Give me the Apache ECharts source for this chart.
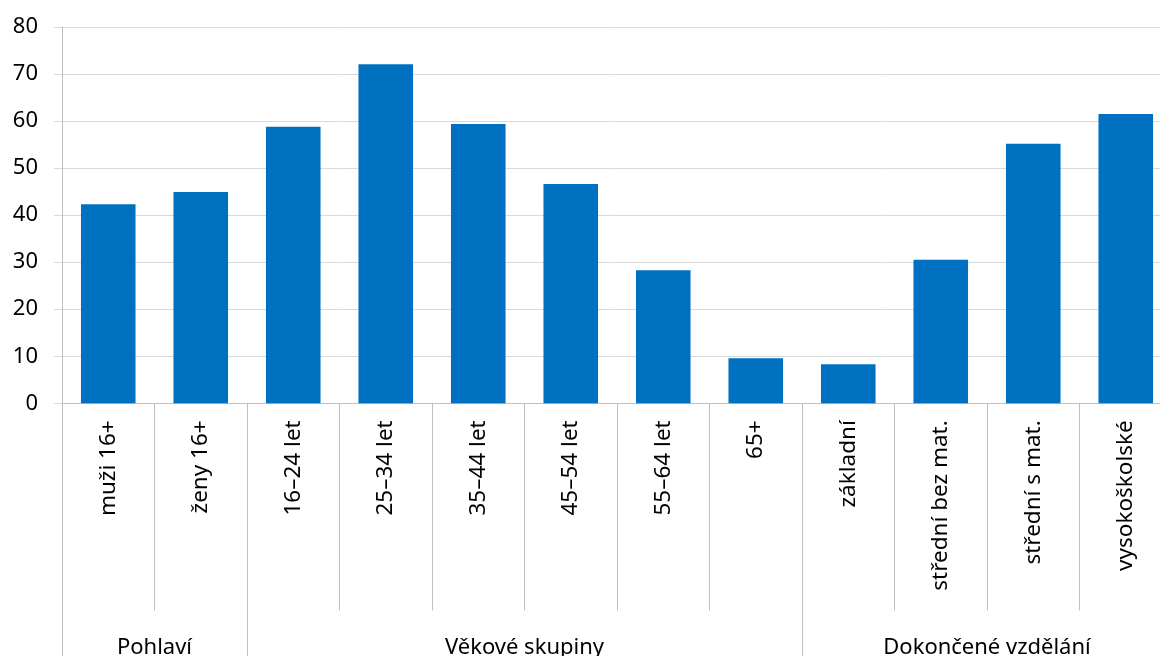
<!DOCTYPE html>
<html>
<head>
<meta charset="utf-8">
<script src="https://cdn.jsdelivr.net/npm/echarts@6/dist/echarts.min.js"></script>
<style>
  html, body { margin: 0; padding: 0; background: #fff; }
  #chart { width: 1160px; height: 656px; }
</style>
</head>
<body>
<div id="chart"></div>
<script>
// Categories (inner axis level)
const categories = [
  'muži 16+', 'ženy 16+',
  '16–24 let', '25–34 let', '35–44 let', '45–54 let', '55–64 let', '65+',
  'základní', 'střední bez mat.', 'střední s mat.', 'vysokoškolské'
];
// Bar values
const values = [42.3, 44.9, 58.8, 72.1, 59.4, 46.6, 28.3, 9.6, 8.3, 30.5, 55.2, 61.5];
// Outer axis level: group names and how many categories each spans
const groups = ['Pohlaví', 'Věkové skupiny', 'Dokončené vzdělání'];
const groupSizes = [2, 6, 4];
// Value axis ticks
const yTicks = [0, 10, 20, 30, 40, 50, 60, 70, 80];

// Group boundaries and centres on a 0..N scale
const groupEdges = [0];
groupSizes.forEach(s => groupEdges.push(groupEdges[groupEdges.length - 1] + s));
const groupCenters = groupSizes.map((s, i) => groupEdges[i] + s / 2);

const FONT = '"Noto Sans", sans-serif';
const chart = echarts.init(document.getElementById('chart'), null, { renderer: 'canvas' });

chart.setOption({
  animation: false,
  backgroundColor: '#ffffff',
  grid: {
    left: 62, right: -12, top: 27, bottom: 252.7,
    containLabel: false, outerBoundsMode: 'none'
  },
  xAxis: [
    {
      type: 'category',
      data: categories,
      position: 'bottom',
      boundaryGap: true,
      axisLine: { show: true, lineStyle: { color: '#bfbfbf', width: 1 } },
      axisTick: { show: true, interval: 0, length: 207, lineStyle: { color: '#bfbfbf', width: 1 } },
      axisLabel: {
        interval: 0, rotate: 90, margin: 17,
        fontFamily: FONT, fontSize: 22.5, color: '#000'
      },
      splitLine: { show: false }
    },
    {
      type: 'value',
      min: 0,
      max: categories.length,
      position: 'bottom',
      offset: 0,
      axisLine: { show: false },
      axisTick: {
        show: true, length: 253,
        customValues: groupEdges,
        lineStyle: { color: '#bfbfbf', width: 1 }
      },
      axisLabel: {
        show: true, margin: 233,
        customValues: groupCenters,
        formatter: v => groups[groupCenters.indexOf(v)] || '',
        fontFamily: FONT, fontSize: 22, color: '#000'
      },
      splitLine: { show: false }
    }
  ],
  yAxis: {
    type: 'value',
    min: yTicks[0],
    max: yTicks[yTicks.length - 1],
    interval: 10,
    axisLine: { show: true, lineStyle: { color: '#bfbfbf', width: 1 } },
    axisTick: { show: true, length: 8, lineStyle: { color: '#d9d9d9', width: 1 } },
    axisLabel: { margin: 24, fontFamily: FONT, fontSize: 22, color: '#000' },
    splitLine: { show: true, lineStyle: { color: '#d9d9d9', width: 1 } }
  },
  series: [{
    type: 'bar',
    xAxisIndex: 0,
    data: values,
    barCategoryGap: '41%',
    itemStyle: { color: '#0070c0' }
  }]
});
</script>
</body>
</html>
